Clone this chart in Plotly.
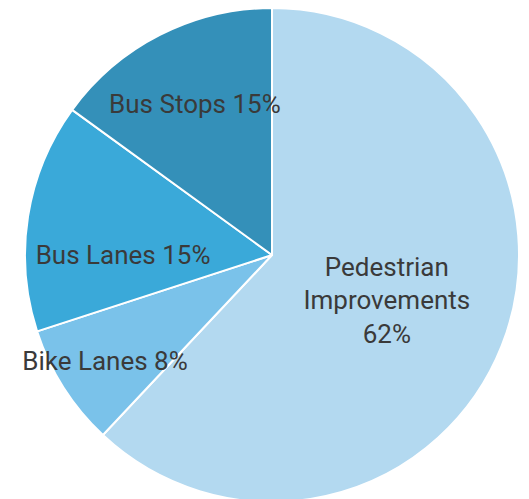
import plotly.graph_objects as go

labels = ["Pedestrian<br>Improvements", "Bike Lanes", "Bus Lanes", "Bus Stops"]
values = [62, 8, 15, 15]
colors = ["#b3d9f0", "#7ac2ea", "#3aa9d9", "#3490b9"]
templates = ["%{label}<br>%{percent:.0%}", "%{label} %{percent:.0%}",
             "%{label} %{percent:.0%}", "%{label} %{percent:.0%}"]

fig = go.Figure(go.Pie(
    labels=labels, values=values, sort=False, direction="clockwise", rotation=0,
    marker=dict(colors=colors, line=dict(color="white", width=2)),
    textposition="inside", insidetextorientation="horizontal",
    textfont=dict(family="Roboto", size=26, color="#3a3a3a"),
    texttemplate=templates,
    hoverinfo="label+percent", showlegend=False,
))
fig.update_layout(
    width=529, height=499, margin=dict(l=17, r=18, t=0, b=5),
    paper_bgcolor="white", plot_bgcolor="white",
    uniformtext=dict(minsize=26, mode="show"),
)
fig.write_html("out.html")
